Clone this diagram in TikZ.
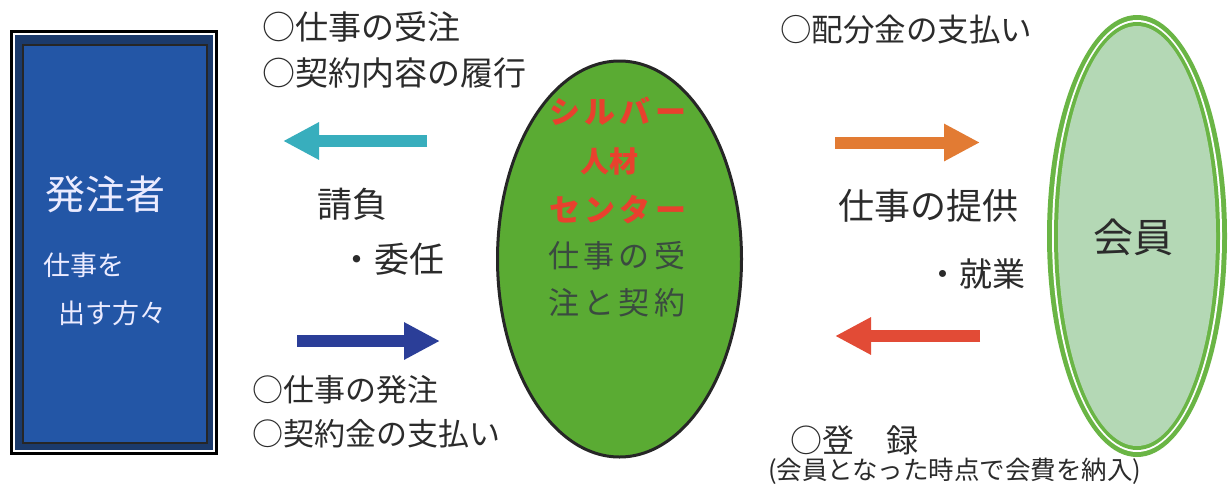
\documentclass[tikz,border=0pt]{standalone}
\usepackage{fontspec}
\usetikzlibrary{arrows.meta,shapes.geometric}
\newfontfamily\jp{Noto Sans CJK JP}
\newcommand{\myfs}[1]{\fontsize{#1}{#1}\selectfont}
\newcommand{\tsp}{\hspace{4.5pt}}
\definecolor{txt}{HTML}{2B2B2B}
\definecolor{navy}{HTML}{1B3A6B}
\definecolor{boxblue}{HTML}{2356A6}
\definecolor{cgreen}{HTML}{5AAB33}
\definecolor{ringgreen}{HTML}{6AB545}
\definecolor{palegreen}{HTML}{B4D8B5}
\definecolor{redtxt}{HTML}{E8412E}
\definecolor{midtxt}{HTML}{3A4A40}
\definecolor{acyan}{HTML}{38AEBD}
\definecolor{ablue}{HTML}{2B3E98}
\definecolor{aorange}{HTML}{E27B33}
\definecolor{ared}{HTML}{E24B36}
\tikzset{
  lbl/.style={inner sep=0pt, outer sep=0pt, text=txt, font=\jp},
  fatarrow/.style={line width=12pt, -{Triangle[length=36pt,width=35pt]}},
}
\begin{document}
\begin{tikzpicture}[x=1pt,y=-1pt]
\useasboundingbox (0,0) rectangle (1228,493);
\fill[white] (0,0) rectangle (1228,493);
% left box
\fill[black] (10,30) rectangle (218,455);
\fill[white] (13,33) rectangle (215,452);
\fill[navy] (15,35) rectangle (213,450);
\node[draw=black!85, line width=1.5pt, fill=boxblue, minimum width=184pt, minimum height=398pt, inner sep=0pt, anchor=north west] (client) at (22,44) {};
\node[lbl, text=white!92!blue, anchor=west] (clientA) at (45,194) {\myfs{40}発注者};
\node[lbl, text=white!92!blue, anchor=west] (clientB) at (43,265) {\myfs{27}仕事を};
\node[lbl, text=white!92!blue, anchor=west] (clientC) at (58,313) {\myfs{27}出す方々};
% center ellipse
\node[ellipse, draw=black!85, line width=3pt, fill=cgreen, minimum width=244pt, minimum height=396pt, inner sep=0pt] (center) at (619.5,259) {};
\node[lbl, text=redtxt, anchor=west] (cA) at (549,111) {\myfs{31}\bfseries シ\tsp ル\tsp バ\tsp ー};
\node[lbl, text=redtxt] (cB) at (609,161) {\myfs{29}\bfseries 人材};
\node[lbl, text=redtxt, anchor=west] (cC) at (549,210) {\myfs{31}\bfseries セ\tsp ン\tsp タ\tsp ー};
\node[lbl, text=midtxt, anchor=west] (cD) at (548,256) {\myfs{31}仕\tsp 事\tsp の\tsp 受};
\node[lbl, text=midtxt, anchor=west] (cE) at (548,303) {\myfs{31}注\tsp と\tsp 契\tsp 約};
% right ellipse
\fill[ringgreen] (1137,236) ellipse [x radius=90, y radius=221];
\fill[white] (1137,236) ellipse [x radius=85, y radius=216];
\fill[ringgreen] (1137,236) ellipse [x radius=83, y radius=214];
\node[ellipse, fill=palegreen, minimum width=158pt, minimum height=420pt, inner sep=0pt] (member) at (1137,236) {};
\node[lbl] (memberT) at (1133,237) {\myfs{40}会員};
% labels
\node[lbl, anchor=west] (t1) at (262,26.5) {\myfs{33}○仕事の受注};
\node[lbl, anchor=west] (t2) at (262,73) {\myfs{33}○契約内容の履行};
\node[lbl, anchor=west] (t3) at (317,204) {\myfs{35}請負};
\node[lbl, anchor=east] (t4) at (444,259) {\myfs{35}・委任};
\node[lbl, anchor=west] (t5) at (252,390) {\myfs{31}○仕事の発注};
\node[lbl, anchor=west] (t6) at (252,434) {\myfs{31}○契約金の支払い};
\node[lbl, anchor=west] (t7) at (780,30) {\myfs{31.5}○配分金の支払い};
\node[lbl, anchor=west] (t8) at (838,206) {\myfs{36}仕事の提供};
\node[lbl, anchor=east] (t9) at (1025,274) {\myfs{33}・就業};
\node[lbl, anchor=west] (t10) at (790,440) {\myfs{32}○登　録};
\node[lbl, anchor=west] (t11) at (768,471.5) {\myfs{25.5}(会員となった時点で会費を納入)};
% arrows
\coordinate (a1s) at (427,141); \coordinate (a1e) at (283,141);
\coordinate (a2s) at (297,341); \coordinate (a2e) at (440,341);
\coordinate (a3s) at (835,142.5); \coordinate (a3e) at (980,142.5);
\coordinate (a4s) at (980,336); \coordinate (a4e) at (835,336);
\draw[fatarrow, acyan] (a1s) -- (a1e);
\draw[fatarrow, ablue] (a2s) -- (a2e);
\draw[fatarrow, aorange] (a3s) -- (a3e);
\draw[fatarrow, ared] (a4s) -- (a4e);
\end{tikzpicture}
\end{document}
